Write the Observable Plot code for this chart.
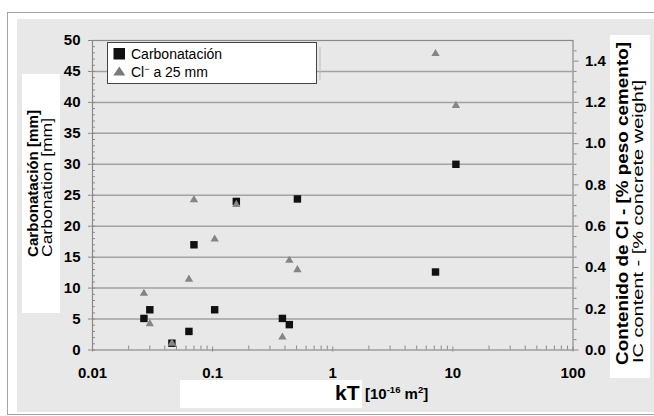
<!DOCTYPE html>
<html>
<head>
<meta charset="utf-8">
<script src="https://cdn.jsdelivr.net/npm/d3@7"></script>
<script src="https://cdn.jsdelivr.net/npm/@observablehq/plot@0.6"></script>
<style>
  html, body { margin: 0; padding: 0; background: #fff; }
  #wrap { position: relative; width: 654px; height: 416px; overflow: hidden; font-family: "Liberation Sans", Arial, sans-serif; }
  #outer { position: absolute; left: 7px; top: 12px; width: 660px; height: 401px; border: 1.5px solid #a3a3a3; background: #fff; }
  #inner { position: absolute; left: 17px; top: 19px; width: 640px; height: 393px; background: #e8e8e8; }
  #chart { position: absolute; left: 0; top: 0; }
  #overlay { position: absolute; left: 0; top: 0; }
</style>
</head>
<body>
<div id="wrap">
  <div id="outer"></div>
  <div id="inner"></div>
  <div id="chart"></div>
  <svg id="overlay" width="654" height="416" font-family="Liberation Sans, Arial, sans-serif">
    <!-- axis title boxes -->
    <rect x="22" y="74" width="38" height="239" fill="#fff"/>
    <rect x="610" y="35" width="40" height="343" fill="#fff"/>
    <rect x="180" y="380" width="182" height="28" fill="#fff"/>
    <text transform="translate(37.5,257) rotate(-90)" font-size="15" font-weight="bold" fill="#000" textLength="147" lengthAdjust="spacingAndGlyphs">Carbonatación [mm]</text>
    <text transform="translate(51.5,257) rotate(-90)" font-size="15.5" fill="#000" textLength="139" lengthAdjust="spacingAndGlyphs">Carbonation  [mm]</text>
    <text transform="translate(627.5,365) rotate(-90)" font-size="16" font-weight="bold" fill="#000" textLength="323" lengthAdjust="spacingAndGlyphs">Contenido de Cl - [% peso cemento]</text>
    <text transform="translate(643,363) rotate(-90)" font-size="15.5" fill="#000" textLength="283" lengthAdjust="spacingAndGlyphs">IC content - [% concrete weight]</text>
    <text x="335" y="400" font-size="21" font-weight="bold" fill="#000">kT</text>
    <text x="365" y="399" font-size="15" font-weight="bold" fill="#000">[10<tspan font-size="9.5" dy="-6">-16</tspan><tspan dy="6"> m</tspan><tspan font-size="9.5" dy="-6">2</tspan><tspan dy="6">]</tspan></text>
    <!-- legend -->
    <line x1="320" y1="47" x2="320" y2="80" stroke="#bdbdbd" stroke-width="1"/>
    <rect x="107.5" y="42.5" width="209" height="41" fill="#fff" stroke="#444" stroke-width="1"/>
    <rect x="113.5" y="48" width="11.5" height="11.5" fill="#111"/>
    <path d="M119.3,66.5 L125.3,75.5 L113.3,75.5 Z" fill="#7a7a7a"/>
    <text x="131" y="59" font-size="14" fill="#000">Carbonatación</text>
    <text x="131" y="76.5" font-size="14" fill="#000">Cl<tspan font-size="9" dy="-5">−</tspan><tspan dy="5"> a 25 mm</tspan></text>
  </svg>
</div>
<script>
// ---- data ----
const kT = [0.0268, 0.030, 0.0458, 0.0635, 0.0699, 0.104, 0.1575, 0.381, 0.435, 0.508, 7.17, 10.6];
const carbonatacion = [5.1, 6.5, 1.1, 3.0, 17.0, 6.5, 24.0, 5.1, 4.1, 24.4, 12.6, 30.0];      // mm (left axis)
const cloruro = [0.274, 0.127, 0.032, 0.343, 0.728, 0.537, 0.705, 0.062, 0.434, 0.389, 1.436, 1.185]; // % (right axis)

const leftTicks = [0, 5, 10, 15, 20, 25, 30, 35, 40, 45, 50];
const rightTicks = [0.0, 0.2, 0.4, 0.6, 0.8, 1.0, 1.2, 1.4];
const xTicks = [0.01, 0.1, 1, 10, 100];
const yMax = 50;     // mm
const clMax = 1.5;   // % at top of right axis

// ---- derived tables ----
const carbRows = kT.map((k, i) => ({kT: k, v: carbonatacion[i]}));
const clRows = kT.map((k, i) => ({kT: k, v: cloruro[i]}));
const clToY = c => c * yMax / clMax;
const leftMinor = d3.range(0, yMax + 1).filter(v => v % 5 !== 0);
const rightMinor = d3.range(0, 30).map(i => +(i * 0.05).toFixed(2)).filter(v => Math.round(v * 100) % 20 !== 0 && v < clMax);
const xMinor = xTicks.slice(0, -1).flatMap(d => d3.range(2, 10).map(m => d * m));
const gridVals = leftTicks.filter(v => v > 0 && v < yMax);

const chart = Plot.plot({
  width: 654,
  height: 416,
  marginLeft: 92,
  marginRight: 81.5,
  marginTop: 40,
  marginBottom: 66.5,
  style: {background: "transparent", color: "#000", fontFamily: "Liberation Sans, Arial, sans-serif", overflow: "visible"},
  x: {type: "log", domain: [0.01, 100]},
  y: {domain: [0, yMax]},
  marks: [
    Plot.gridY(gridVals, {stroke: "#a2a2a2", strokeOpacity: 1, strokeWidth: 1.5}),
    Plot.frame({stroke: "#8a8a8a", strokeWidth: 1.2}),
    // left axis
    Plot.axisY(leftMinor, {anchor: "left", tickSize: 3, dx: 3, tickFormat: () => "", stroke: "#8a8a8a", label: null}),
    Plot.axisY(leftTicks, {anchor: "left", tickSize: 7, dx: 3, tickPadding: 8, stroke: "#8a8a8a", fontSize: 15, fontWeight: "bold", label: null}),
    // right axis (chloride %)
    Plot.axisY(rightMinor.map(clToY), {anchor: "right", tickSize: 3, tickFormat: () => "", stroke: "#8a8a8a", label: null}),
    Plot.axisY(rightTicks.map(clToY), {anchor: "right", tickSize: 5, tickPadding: 7, stroke: "#8a8a8a", fontSize: 15, fontWeight: "bold",
      tickFormat: d => (d * clMax / yMax).toFixed(1), label: null}),
    // x axis
    Plot.axisX(xMinor, {anchor: "bottom", tickSize: 4, dy: -4, tickFormat: () => "", stroke: "#8a8a8a", label: null}),
    Plot.axisX(xTicks, {anchor: "bottom", tickSize: 5, dy: -3, tickPadding: 15, stroke: "#8a8a8a", fontSize: 15, fontWeight: "bold",
      tickFormat: d => String(d), label: null}),
    // data
    Plot.dot(carbRows, {x: "kT", y: "v", symbol: "square", r: 4.2, fill: "#111", stroke: null}),
    Plot.dot(clRows, {x: "kT", y: d => clToY(d.v), symbol: "triangle", r: 3.1, fill: "#858585", stroke: null})
  ]
});
document.getElementById("chart").appendChild(chart);
</script>
</body>
</html>
